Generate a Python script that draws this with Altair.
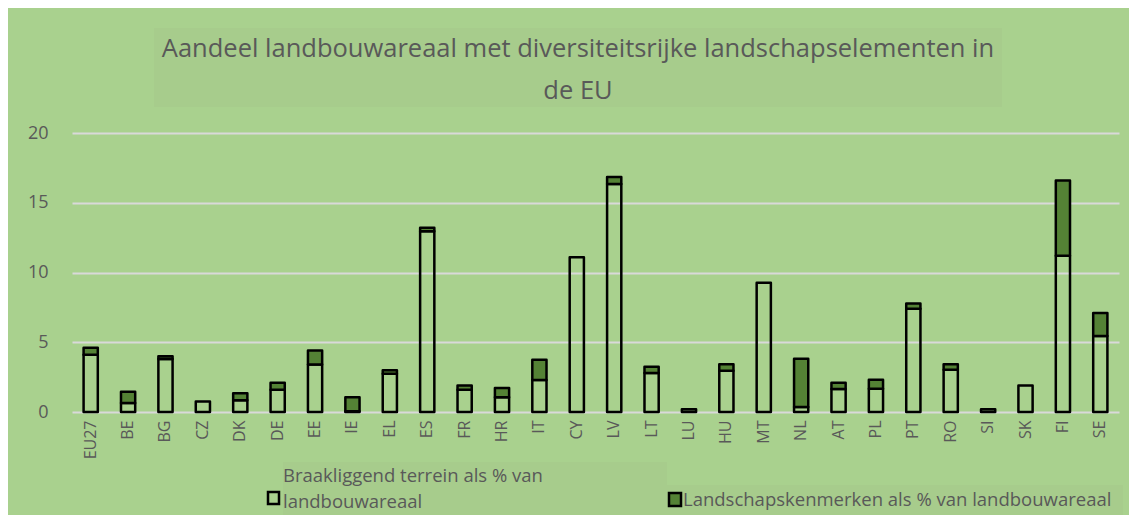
import altair as alt
import pandas as pd

# ---- data ----
countries = ["EU27", "BE", "BG", "CZ", "DK", "DE", "EE", "IE", "EL", "ES", "FR", "HR",
             "IT", "CY", "LV", "LT", "LU", "HU", "MT", "NL", "AT", "PL", "PT", "RO",
             "SI", "SK", "FI", "SE"]
fallow = [4.1, 0.65, 3.8, 0.75, 0.85, 1.6, 3.4, 0.05, 2.75, 12.95, 1.6, 1.05,
          2.3, 11.1, 16.35, 2.8, 0.2, 2.95, 9.27, 0.35, 1.65, 1.67, 7.4, 3.03,
          0.2, 1.9, 11.2, 5.45]
landscape = [0.5, 0.8, 0.2, 0.0, 0.5, 0.5, 1.0, 1.0, 0.25, 0.25, 0.3, 0.67,
             1.45, 0.0, 0.5, 0.45, 0.0, 0.47, 0.0, 3.47, 0.45, 0.65, 0.37, 0.4,
             0.0, 0.0, 5.4, 1.65]
series_names = ["Braakliggend terrein als % van landbouwareaal",
                "Landschapskenmerken als % van landbouwareaal"]
y_ticks = [0, 5, 10, 15, 20]
title_text = "Aandeel landbouwareaal met diversiteitsrijke landschapselementen in\nde EU"
legend1_text = "Braakliggend terrein als % van\nlandbouwareaal"
legend2_text = "Landschapskenmerken als % van landbouwareaal"

rows = []
for i, c in enumerate(countries):
    for k, vals in enumerate([fallow, landscape]):
        if vals[i] > 0:
            rows.append({"land": c, "serie": series_names[k], "waarde": vals[i], "volgorde": k})
df = pd.DataFrame(rows)

BG = "#a9d18e"
BOX = "#a7cc8c"
TXT = "#595959"
DARK = "#548235"
FONT = "Open Sans"

one = pd.DataFrame({"k": [0]})

title_box = alt.Chart(one).mark_rect(color=BOX).encode(
    x=alt.value(82), x2=alt.value(930), y=alt.value(-105), y2=alt.value(-26))
leg_box1 = alt.Chart(one).mark_rect(color=BOX).encode(
    x=alt.value(211), x2=alt.value(595), y=alt.value(329), y2=alt.value(382))
leg_box2 = alt.Chart(one).mark_rect(color=BOX).encode(
    x=alt.value(595), x2=alt.value(1051), y=alt.value(352), y2=alt.value(382))

bars = alt.Chart(df).mark_bar(stroke="black", strokeWidth=2.5, strokeJoin="round").encode(
    x=alt.X("land:N", sort=countries,
            scale=alt.Scale(paddingInner=0.62, paddingOuter=0.31),
            axis=alt.Axis(title=None, labelAngle=-90, domain=False, ticks=False,
                          labelPadding=8, labelFontSize=16, labelColor=TXT,
                          labelFont=FONT, grid=False)),
    y=alt.Y("waarde:Q", stack="zero", scale=alt.Scale(domain=[0, 20], nice=False),
            axis=alt.Axis(title=None, values=y_ticks, domain=False, ticks=False,
                          labelPadding=24, labelFontSize=18, labelColor=TXT,
                          labelFont=FONT, grid=True, gridColor="#d9d9d9", gridWidth=2)),
    color=alt.Color("serie:N", scale=alt.Scale(domain=series_names,
                                               range=["transparent", DARK]), legend=None),
    order=alt.Order("volgorde:Q"),
)

title = alt.Chart(pd.DataFrame({"t": [title_text]})).mark_text(
    font=FONT, fontSize=25.5, color=TXT, align="center", baseline="alphabetic",
    lineBreak="\n", lineHeight=42).encode(
    text="t:N", x=alt.value(506), y=alt.value(-76))

leg_mark1 = alt.Chart(one).mark_rect(fill=BG, stroke="black", strokeWidth=2.5).encode(
    x=alt.value(196), x2=alt.value(207), y=alt.value(359), y2=alt.value(371))
leg_text1 = alt.Chart(pd.DataFrame({"t": [legend1_text]})).mark_text(
    font=FONT, fontSize=18.5, color=TXT, align="left", baseline="alphabetic",
    lineBreak="\n", lineHeight=26).encode(
    text="t:N", x=alt.value(211), y=alt.value(349))

leg_mark2 = alt.Chart(one).mark_rect(fill=DARK, stroke="black", strokeWidth=2.5).encode(
    x=alt.value(597), x2=alt.value(609), y=alt.value(360), y2=alt.value(373))
leg_text2 = alt.Chart(pd.DataFrame({"t": [legend2_text]})).mark_text(
    font=FONT, fontSize=18.5, color=TXT, align="left", baseline="alphabetic").encode(
    text="t:N", x=alt.value(611), y=alt.value(373))

chart = alt.layer(
    title_box, leg_box1, leg_box2, bars, title, leg_mark1, leg_text1, leg_mark2, leg_text2
).properties(
    width=1047, height=279, background=BG,
    padding={"left": 64, "top": 125, "right": 10, "bottom": 103},
    autosize=alt.AutoSizeParams(type="none"),
).configure_view(stroke=None)

chart.save("out.html", embed_options={"renderer": "svg", "actions": False})
